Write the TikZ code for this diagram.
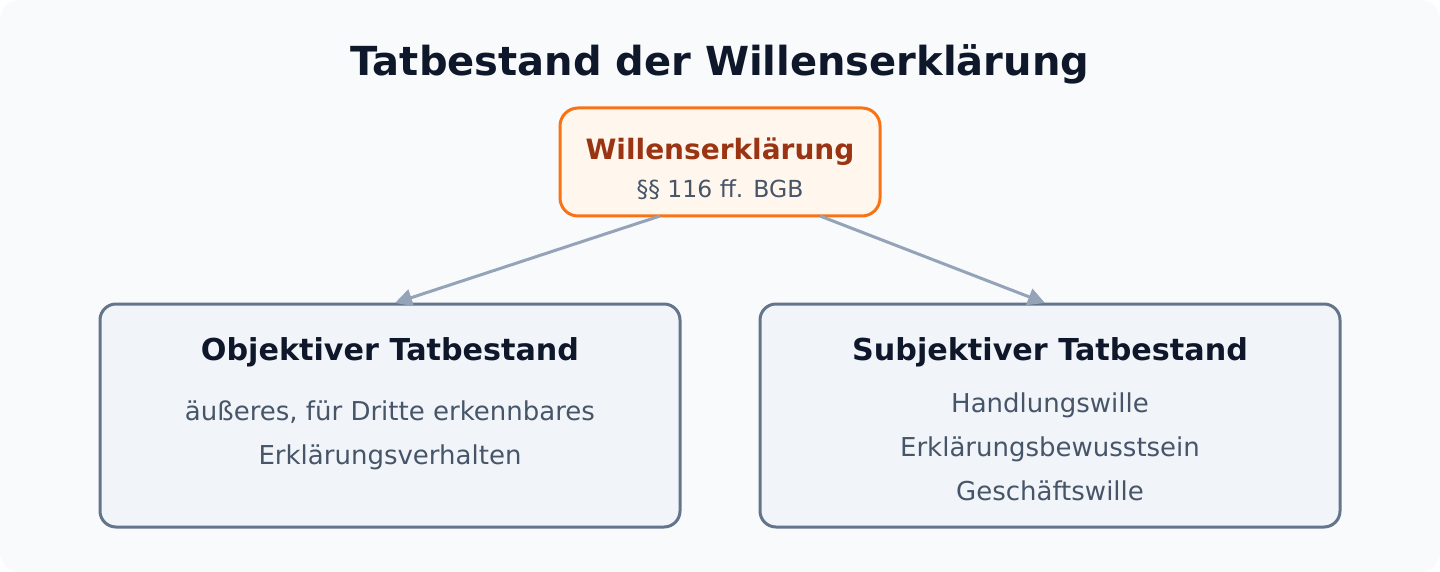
\documentclass[tikz,border=0pt]{standalone}
\usepackage{fontspec}
\setmainfont{DejaVu Sans}
\usetikzlibrary{arrows.meta}
\definecolor{bgc}{HTML}{F8FAFC}
\definecolor{orstroke}{HTML}{F97316}
\definecolor{orfill}{HTML}{FFF7ED}
\definecolor{ortext}{HTML}{9A3412}
\definecolor{slstroke}{HTML}{64748B}
\definecolor{slfill}{HTML}{F1F5F9}
\definecolor{darktext}{HTML}{0F172A}
\definecolor{greytext}{HTML}{475569}
\definecolor{arrowc}{HTML}{94A3B8}
\tikzset{
  rootbox/.style={draw=orstroke, fill=orfill, line width=3pt, rounded corners=18pt, minimum width=320pt, minimum height=108pt},
  subbox/.style={draw=slstroke, fill=slfill, line width=3pt, rounded corners=16pt, minimum width=580pt, minimum height=223pt},
  txt/.style={anchor=base, inner sep=0pt},
  ttl/.style={txt, font=\fontsize{40}{46}\selectfont\bfseries, text=darktext},
  boxttl/.style={txt, font=\fontsize{30.2}{34}\selectfont\bfseries, text=darktext},
  roottxt/.style={txt, font=\fontsize{28}{32}\selectfont\bfseries, text=ortext},
  subtxt/.style={txt, font=\fontsize{23.5}{27}\selectfont, text=greytext},
  bodytxt/.style={txt, font=\fontsize{26}{30}\selectfont, text=greytext},
  conn/.style={draw=arrowc, line width=3pt, -{Triangle[length=17pt,width=17pt]}},
}
\begin{document}
\begin{tikzpicture}[x=1pt,y=-1pt]
\useasboundingbox (0,0) rectangle (1440,572);
\fill[white] (0,0) rectangle (1440,572);
\fill[bgc, rounded corners=20pt] (0,0) rectangle (1440,572);
\node[ttl] (title) at (720,76) {Tatbestand der Willenserklärung};
\node[rootbox] (root) at (720,162) {};
\node[roottxt] (rootname) at (720,160) {Willenserklärung};
\node[subtxt] (rootref) at (720,197) {§§ 116 ff. BGB};
\node[subbox] (obj) at (390,415.5) {};
\node[subbox] (subj) at (1050,415.5) {};
\node[boxttl] (objt) at (390,360) {Objektiver Tatbestand};
\node[bodytxt] (objl1) at (390,420) {äußeres, für Dritte erkennbares};
\node[bodytxt] (objl2) at (390,464) {Erklärungsverhalten};
\node[boxttl] (subjt) at (1050,360) {Subjektiver Tatbestand};
\node[bodytxt] (subjl1) at (1050,412) {Handlungswille};
\node[bodytxt] (subjl2) at (1050,456) {Erklärungsbewusstsein};
\node[bodytxt] (subjl3) at (1050,500) {Geschäftswille};
\coordinate (s1) at (660,216);
\coordinate (s2) at (820,216);
\coordinate (e1) at (395,303);
\coordinate (e2) at (1045,303);
\draw[conn] (s1) -- (e1);
\draw[conn] (s2) -- (e2);
\end{tikzpicture}
\end{document}
